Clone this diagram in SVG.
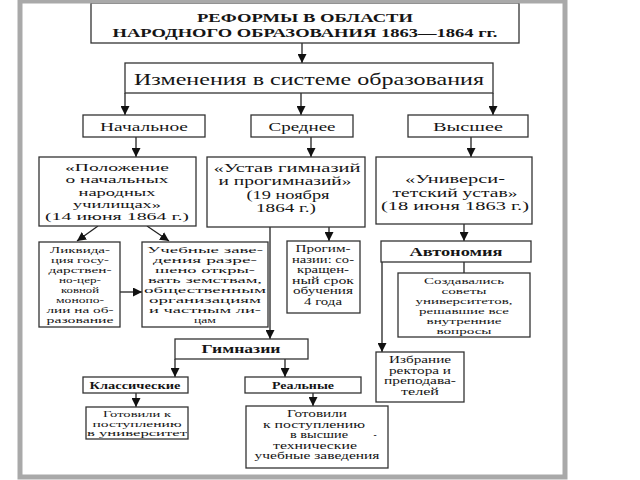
<svg xmlns="http://www.w3.org/2000/svg" width="640" height="480" viewBox="0 0 640 480">
<style>
.box{fill:#fff;stroke:#333;stroke-width:1.3}
.t{font-family:"Liberation Serif","DejaVu Serif",serif;fill:#151515;text-anchor:middle}
.b{font-weight:bold}
.f9{font-size:9px}
.f95{font-size:9.4px}
.f11{font-size:11px}
.f12{font-size:12px}
.f13{font-size:13px}
.c{stroke:#222;stroke-width:1.3;fill:none}
.a{marker-end:url(#arr)}
</style>
<defs>
<marker id="arr" markerUnits="userSpaceOnUse" markerWidth="9" markerHeight="9" refX="9" refY="4.5" orient="auto">
<path d="M0,0 L9,4.5 L0,9 z" fill="#111"/>
</marker>
</defs>
<rect x="0" y="0" width="640" height="480" fill="#fff"/>

<g id="connectors">
<path class="c a" d="M302,43 V63"/>
<path class="c a" d="M125,93 V115"/>
<path class="c a" d="M301,93 V115"/>
<path class="c a" d="M493,93 V115"/>
<path class="c a" d="M136,137 V157"/>
<path class="c a" d="M311,137 V157"/>
<path class="c a" d="M471,137 V157"/>
<path class="c a" d="M98,226 L77,241"/>
<path class="c a" d="M147,226 L169,241"/>
<path class="c a" d="M120,292 H142"/>
<path class="c a" d="M329,227 V241"/>
<path class="c a" d="M270,227 V339"/>
<path class="c a" d="M175,359 V377"/>
<path class="c a" d="M285,359 V377"/>
<path class="c a" d="M136,393 V407"/>
<path class="c a" d="M313,393 V406"/>
<path class="c a" d="M464,224 V241"/>
<path class="c" d="M464,262 V273"/>
<path class="c a" d="M382,262 V352"/>
</g>

<g id="title">
<rect class="box" x="91" y="3" width="428" height="40"/>
<text class="t b f13" x="305" y="22" textLength="216" lengthAdjust="spacingAndGlyphs">РЕФОРМЫ В ОБЛАСТИ</text>
<text class="t b f13" x="305" y="37" textLength="385" lengthAdjust="spacingAndGlyphs">НАРОДНОГО ОБРАЗОВАНИЯ 1863—1864 гг.</text>
</g>

<g id="izmeneniya">
<rect class="box" x="125" y="63" width="368" height="30"/>
<text class="t" style="font-size:17px" x="309" y="85" textLength="350" lengthAdjust="spacingAndGlyphs">Изменения в системе образования</text>
</g>

<g id="nachalnoe">
<rect class="box" x="83" y="115" width="122" height="22"/>
<text class="t f12" x="144" y="131" textLength="88" lengthAdjust="spacingAndGlyphs">Начальное</text>
</g>
<g id="srednee">
<rect class="box" x="251" y="115" width="102" height="22"/>
<text class="t f12" x="302" y="131" textLength="67" lengthAdjust="spacingAndGlyphs">Среднее</text>
</g>
<g id="vysshee">
<rect class="box" x="408" y="115" width="120" height="22"/>
<text class="t f12" x="468" y="131" textLength="70" lengthAdjust="spacingAndGlyphs">Высшее</text>
</g>

<g id="polozhenie">
<rect class="box" x="39" y="157" width="157" height="69"/>
<text class="t f11" x="117" y="171" textLength="104" lengthAdjust="spacingAndGlyphs">«Положение</text>
<text class="t f11" x="117" y="183.3" textLength="103" lengthAdjust="spacingAndGlyphs">о начальных</text>
<text class="t f11" x="117" y="195.6" textLength="77" lengthAdjust="spacingAndGlyphs">народных</text>
<text class="t f11" x="117" y="207.9" textLength="88" lengthAdjust="spacingAndGlyphs">училищах»</text>
<text class="t f11" x="117" y="220.2" textLength="144" lengthAdjust="spacingAndGlyphs">(14 июня 1864 г.)</text>
</g>

<g id="ustav">
<rect class="box" x="207" y="157" width="158" height="70"/>
<text class="t f12" x="287" y="172" textLength="147" lengthAdjust="spacingAndGlyphs">«Устав гимназий</text>
<text class="t f12" x="285" y="185.4" textLength="133" lengthAdjust="spacingAndGlyphs">и прогимназий»</text>
<text class="t f12" x="288" y="198.8" textLength="83" lengthAdjust="spacingAndGlyphs">(19 ноября</text>
<text class="t f12" x="286" y="212.2" textLength="60" lengthAdjust="spacingAndGlyphs">1864 г.)</text>
</g>

<g id="univ">
<rect class="box" x="376" y="157" width="156" height="67"/>
<text class="t f12" x="455" y="183" textLength="100" lengthAdjust="spacingAndGlyphs">«Универси-</text>
<text class="t f12" x="455" y="196.5" textLength="125" lengthAdjust="spacingAndGlyphs">тетский устав»</text>
<text class="t f12" x="455" y="210" textLength="148" lengthAdjust="spacingAndGlyphs">(18 июня 1863 г.)</text>
</g>

<g id="likvidaciya">
<rect class="box" x="39" y="242" width="81" height="85"/>
<text class="t f9" x="80" y="253" textLength="60" lengthAdjust="spacingAndGlyphs">Ликвида-</text>
<text class="t f9" x="80" y="263" textLength="58" lengthAdjust="spacingAndGlyphs">ция госу-</text>
<text class="t f9" x="80" y="273" textLength="63" lengthAdjust="spacingAndGlyphs">дарствен-</text>
<text class="t f9" x="80" y="283" textLength="42" lengthAdjust="spacingAndGlyphs">но-цер-</text>
<text class="t f9" x="80" y="293" textLength="38" lengthAdjust="spacingAndGlyphs">ковной</text>
<text class="t f9" x="80" y="303" textLength="48" lengthAdjust="spacingAndGlyphs">монопо-</text>
<text class="t f9" x="80" y="313" textLength="67" lengthAdjust="spacingAndGlyphs">лии на об-</text>
<text class="t f9" x="80" y="323" textLength="67" lengthAdjust="spacingAndGlyphs">разование</text>
</g>

<g id="uchebnye">
<rect class="box" x="142" y="242" width="126" height="85"/>
<text class="t f9" x="205" y="253" textLength="116" lengthAdjust="spacingAndGlyphs">Учебные заве-</text>
<text class="t f9" x="205" y="263" textLength="104" lengthAdjust="spacingAndGlyphs">дения разре-</text>
<text class="t f9" x="205" y="273" textLength="100" lengthAdjust="spacingAndGlyphs">шено откры-</text>
<text class="t f9" x="205" y="283" textLength="114" lengthAdjust="spacingAndGlyphs">вать земствам,</text>
<text class="t f9" x="205" y="293" textLength="122" lengthAdjust="spacingAndGlyphs">общественным</text>
<text class="t f9" x="205" y="303" textLength="112" lengthAdjust="spacingAndGlyphs">организациям</text>
<text class="t f9" x="205" y="313" textLength="112" lengthAdjust="spacingAndGlyphs">и частным ли-</text>
<text class="t f9" x="205" y="323" textLength="22" lengthAdjust="spacingAndGlyphs">цам</text>
</g>

<g id="progimnazii">
<rect class="box" x="287" y="241" width="73" height="72"/>
<text class="t f95" x="323" y="252" textLength="55" lengthAdjust="spacingAndGlyphs">Прогим-</text>
<text class="t f95" x="323" y="262.5" textLength="62" lengthAdjust="spacingAndGlyphs">назии: со-</text>
<text class="t f95" x="323" y="273" textLength="52" lengthAdjust="spacingAndGlyphs">кращен-</text>
<text class="t f95" x="323" y="283.5" textLength="62" lengthAdjust="spacingAndGlyphs">ный срок</text>
<text class="t f95" x="323" y="294" textLength="60" lengthAdjust="spacingAndGlyphs">обучения</text>
<text class="t f95" x="323" y="304.5" textLength="38" lengthAdjust="spacingAndGlyphs">4 года</text>
</g>

<g id="avtonomiya">
<rect class="box" x="381" y="241" width="150" height="21"/>
<text class="t b f12" x="456" y="256" textLength="93" lengthAdjust="spacingAndGlyphs">Автономия</text>
</g>

<g id="sozdavalis">
<rect class="box" x="398" y="273" width="132" height="64"/>
<text class="t f9" x="464" y="284" textLength="80" lengthAdjust="spacingAndGlyphs">Создавались</text>
<text class="t f9" x="464" y="294" textLength="45" lengthAdjust="spacingAndGlyphs">советы</text>
<text class="t f9" x="464" y="304" textLength="97" lengthAdjust="spacingAndGlyphs">университетов,</text>
<text class="t f9" x="464" y="314" textLength="90" lengthAdjust="spacingAndGlyphs">решавшие все</text>
<text class="t f9" x="464" y="324" textLength="75" lengthAdjust="spacingAndGlyphs">внутренние</text>
<text class="t f9" x="464" y="334" textLength="55" lengthAdjust="spacingAndGlyphs">вопросы</text>
</g>

<g id="izbranie">
<rect class="box" x="376" y="352" width="88" height="50"/>
<text class="t f95" x="420" y="363" textLength="62" lengthAdjust="spacingAndGlyphs">Избрание</text>
<text class="t f95" x="420" y="373.5" textLength="62" lengthAdjust="spacingAndGlyphs">ректора и</text>
<text class="t f95" x="420" y="384" textLength="72" lengthAdjust="spacingAndGlyphs">преподава-</text>
<text class="t f95" x="420" y="394.5" textLength="38" lengthAdjust="spacingAndGlyphs">телей</text>
</g>

<g id="gimnazii">
<rect class="box" x="175" y="339" width="133" height="20"/>
<text class="t b f13" x="241" y="353" textLength="79" lengthAdjust="spacingAndGlyphs">Гимназии</text>
</g>

<g id="klassicheskie">
<rect class="box" x="83" y="377" width="105" height="16"/>
<text class="t b f11" x="135" y="389" textLength="91" lengthAdjust="spacingAndGlyphs">Классические</text>
</g>

<g id="realnye">
<rect class="box" x="245" y="377" width="116" height="16"/>
<text class="t b f11" x="303" y="389" textLength="62" lengthAdjust="spacingAndGlyphs">Реальные</text>
</g>

<g id="gotovili-univ">
<rect class="box" x="86" y="407" width="102" height="32"/>
<text class="t" style="font-size:8.6px" x="137" y="417" textLength="68" lengthAdjust="spacingAndGlyphs">Готовили к</text>
<text class="t" style="font-size:8.6px" x="137" y="426.5" textLength="89" lengthAdjust="spacingAndGlyphs">поступлению</text>
<text class="t" style="font-size:8.6px" x="137" y="436" textLength="100" lengthAdjust="spacingAndGlyphs">в университет</text>
</g>

<g id="gotovili-tech">
<rect class="box" x="246" y="406" width="142" height="62"/>
<text class="t f95" x="317" y="417" textLength="60" lengthAdjust="spacingAndGlyphs">Готовили</text>
<text class="t f95" x="314" y="427.5" textLength="102" lengthAdjust="spacingAndGlyphs">к поступлению</text>
<text class="t f95" x="319" y="438" textLength="58" lengthAdjust="spacingAndGlyphs">в высшие</text>
<text class="t f95" x="375" y="438">-</text>
<text class="t f95" x="315" y="448.5" textLength="84" lengthAdjust="spacingAndGlyphs">технические</text>
<text class="t f95" x="317" y="459" textLength="125" lengthAdjust="spacingAndGlyphs">учебные заведения</text>
</g>

<rect x="20" y="1" width="545" height="476" fill="none" stroke="#a9a9a9" stroke-width="5"/>
</svg>
